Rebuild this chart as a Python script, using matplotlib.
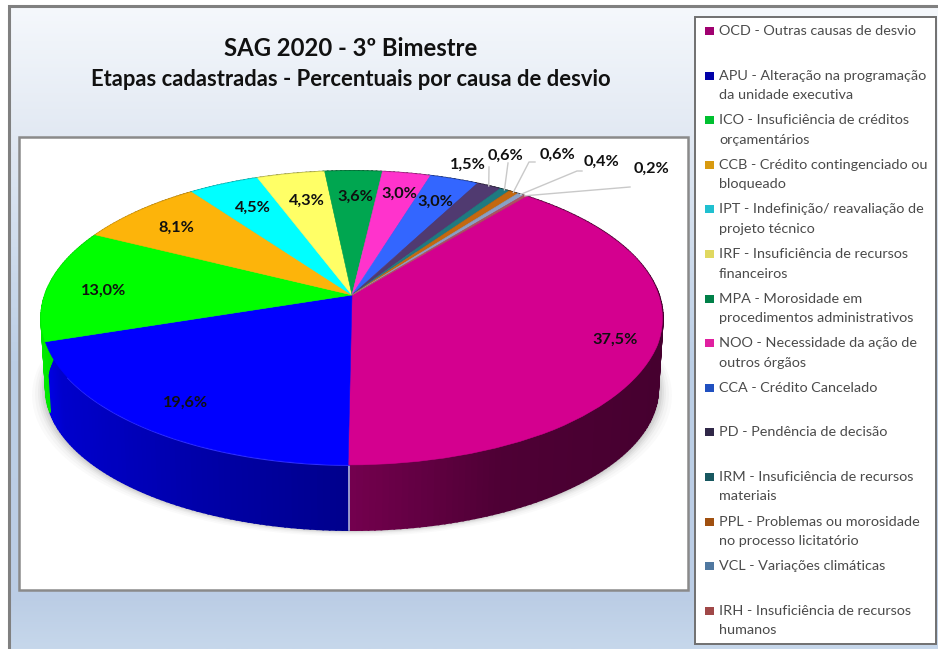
import numpy as np
import matplotlib
matplotlib.use("Agg")
import matplotlib.pyplot as plt
from matplotlib.colors import LinearSegmentedColormap, to_rgb
from matplotlib.patches import Rectangle
from matplotlib.transforms import Transform

plt.rcParams['font.family'] = ['Lato', 'DejaVu Sans']

# ---- data ----
title = "SAG 2020 - 3º Bimestre"
subtitle = "Etapas cadastradas - Percentuais por causa de desvio"
values = [37.5, 19.6, 13.0, 8.1, 4.5, 4.3, 3.6, 3.0, 3.0, 1.5, 0.6, 0.6, 0.4, 0.2]
legend_lines = [
    ["OCD - Outras causas de desvio"],
    ["APU - Alteração na programação", "da unidade executiva"],
    ["ICO - Insuficiência de créditos", "orçamentários"],
    ["CCB - Crédito contingenciado ou", "bloqueado"],
    ["IPT - Indefinição/ reavaliação de", "projeto técnico"],
    ["IRF - Insuficiência de recursos", "financeiros"],
    ["MPA - Morosidade em", "procedimentos administrativos"],
    ["NOO - Necessidade da ação de", "outros órgãos"],
    ["CCA - Crédito Cancelado"],
    ["PD - Pendência de decisão"],
    ["IRM - Insuficiência de recursos", "materiais"],
    ["PPL - Problemas ou morosidade", "no processo licitatório"],
    ["VCL - Variações climáticas"],
    ["IRH - Insuficiência de recursos", "humanos"],
]
colors = ["#d4008f", "#0000ff", "#00ff00", "#fdb40a", "#00ffff", "#ffff66", "#00a650",
          "#ff33cc", "#3366ff", "#503a70", "#1f7a80", "#c4680f", "#8aa0c4", "#b05060"]
swatch_colors = ["#a00070", "#0000a8", "#00c030", "#d89a10", "#20c0d0", "#e0d860", "#008048",
                 "#e020a0", "#2050c0", "#302848", "#185860", "#a05010", "#5078a0", "#a04848"]

# ---- layout ----
label_xy = [(615, 340), (186, 403), (104, 291), (176, 228), (253, 208), (307, 201), (355, 197),
            (399, 194), (435, 202), (468, 165), (505, 156), (557, 155), (602, 162), (652, 169)]
leader_paths = {9: [(489, 167)], 10: [(508, 163)], 11: [(529, 162), (535, 162)],
                12: [(577, 171), (582, 171)], 13: [(630, 187)]}
legend_first_y, legend_step, legend_line_h = 31, 44.6, 19.5
START = 50.5
APEX = (352.0, 295.0)
A, B, K = 307.0, 143.4, 0.156
WARP = 3.5


def persp_xy(u, v):
    u = np.asarray(u, float)
    v = np.asarray(v, float)
    r = np.hypot(u, v)
    th = np.arctan2(v, u)
    th = th - np.radians(WARP) * (1 - np.cos(th - np.radians(START)))
    uu, vv = r * np.cos(th), r * np.sin(th)
    w = 1 + K * vv
    return APEX[0] + A * uu / w, APEX[1] - B * vv / w


class Persp(Transform):
    input_dims = 2
    output_dims = 2

    def transform_non_affine(self, values):
        values = np.asarray(values, float)
        x, y = persp_xy(values[:, 0], values[:, 1])
        return np.column_stack([x, y])


def rim(deg):
    t = np.radians(deg)
    return persp_xy(np.cos(t), np.sin(t))


def lower(x, y):
    return APEX[0] + (x - APEX[0]) * 0.985, APEX[1] + (y - APEX[1]) * 0.96 + 72


fig = plt.figure(figsize=(9.38, 6.49), dpi=100, facecolor="white")
ax = fig.add_axes([0, 0, 1, 1])

wedges, _ = ax.pie(values, colors=colors, startangle=START, counterclock=False,
                   wedgeprops=dict(zorder=3, linewidth=0.4))
ptr = Persp()
for w in wedges:
    w.set_edgecolor(w.get_facecolor())
    w.set_transform(ptr + ax.transData)

ax.set_aspect('auto')
ax.set_xlim(0, 938)
ax.set_ylim(649, 0)
ax.axis('off')

# backgrounds
cmap = LinearSegmentedColormap.from_list("bg", [(0, "#f5f8fc"), (0.2, "#e2e9f3"), (0.55, "#bccfe6"),
                                                (0.92, "#bbcde5"), (1, "#c6d7eb")])
ax.imshow(np.linspace(0, 1, 256)[:, None], cmap=cmap, extent=[9, 938, 649, 6], aspect='auto', zorder=0)
ax.set_xlim(0, 938)
ax.set_ylim(649, 0)
ax.plot([8.5, 8.5, 938], [649, 5.5, 5.5], color="#808080", lw=2.2, zorder=0.5, solid_joinstyle='miter')
ax.add_patch(Rectangle((19, 137), 669, 453, fc="white", ec="#8a8a8a", lw=1.8, zorder=0.6))
ax.add_patch(Rectangle((695, 17), 241, 627, fc="white", ec="#707070", lw=1.4, zorder=0.6))

# soft shadow below the pie
tt = np.linspace(0, 360, 361)
rx, ry = rim(tt)
lx, ly = lower(rx, ry)
for grow, a in zip([14, 11, 8, 6, 4, 2], [0.02, 0.025, 0.03, 0.04, 0.05, 0.06]):
    ax.fill(APEX[0] + (lx - APEX[0]) * (1 + grow / 311), ly + grow * 0.45, color="black", alpha=a, lw=0, zorder=1)

# side wall, one thin strip per degree
sx = [40, 60, 200, 346, 500, 660]
sf = [0.93, 0.8, 0.66, 0.55, 0.37, 0.33]
cum = START
for val, col in zip(values, colors):
    end = cum - val * 3.6
    grid = np.linspace(cum, end, max(2, int(val * 3.6) + 2))
    base = np.array(to_rgb(col))
    for a0, a1 in zip(grid[:-1], grid[1:]):
        xt, yt = rim(np.array([a0, a1]))
        xb, yb = lower(xt, yt)
        f = np.interp(xt.mean(), sx, sf)
        shade = tuple(base * f)
        ax.fill(np.r_[xt, xb[::-1]], np.r_[yt, yb[::-1]], facecolor=shade, edgecolor=shade,
                lw=1.3, zorder=2)
    cum = end

# thin light seam between the two front slices, soft bevel on the front rim of the blue slice
seam = START - values[0] * 3.6
xs, ys = rim(seam)
xl, yl = lower(xs, ys)
ax.plot([xs, xl], [ys, yl], color="#d8d8e8", lw=1.0, zorder=2.5)
bx, by = rim(np.linspace(seam, seam - values[1] * 3.6 * 0.8, 80))
ax.plot(bx, by, color="#3030ff", lw=1.5, zorder=2.8)

# percent labels
for val, (lx0, ly0) in zip(values, label_xy):
    ax.text(lx0, ly0, f"{val:.1f}".replace(".", ",") + "%", ha="center", va="center",
            fontsize=11.7, fontweight="bold", color="#101010", zorder=5)

# leader lines
mids = START - (np.cumsum(values) - np.array(values) / 2) * 3.6 * 100 / np.sum(values)
for i, pts in leader_paths.items():
    x0, y0 = rim(mids[i])
    ax.plot([float(x0)] + [p[0] for p in pts], [float(y0)] + [p[1] for p in pts],
            color="#c9c9c9", lw=1.0, zorder=4)

# titles
ax.text(351, 48, title, ha="center", va="center", fontsize=17.2, fontweight="bold", color="#111111", zorder=5)
ax.text(351, 79, subtitle, ha="center", va="center", fontsize=15.8, fontweight="bold", color="#111111", zorder=5)

# legend
for i, (lines, c) in enumerate(zip(legend_lines, swatch_colors)):
    y = legend_first_y + i * legend_step
    ax.add_patch(Rectangle((705, y - 4), 9, 8, fc=c, ec="none", zorder=5))
    for j, line in enumerate(lines):
        ax.text(719, y + j * legend_line_h, line, ha="left", va="center", fontsize=10.4,
                color="#4a4a4a", zorder=5)

fig.savefig("out.png", dpi=100)
